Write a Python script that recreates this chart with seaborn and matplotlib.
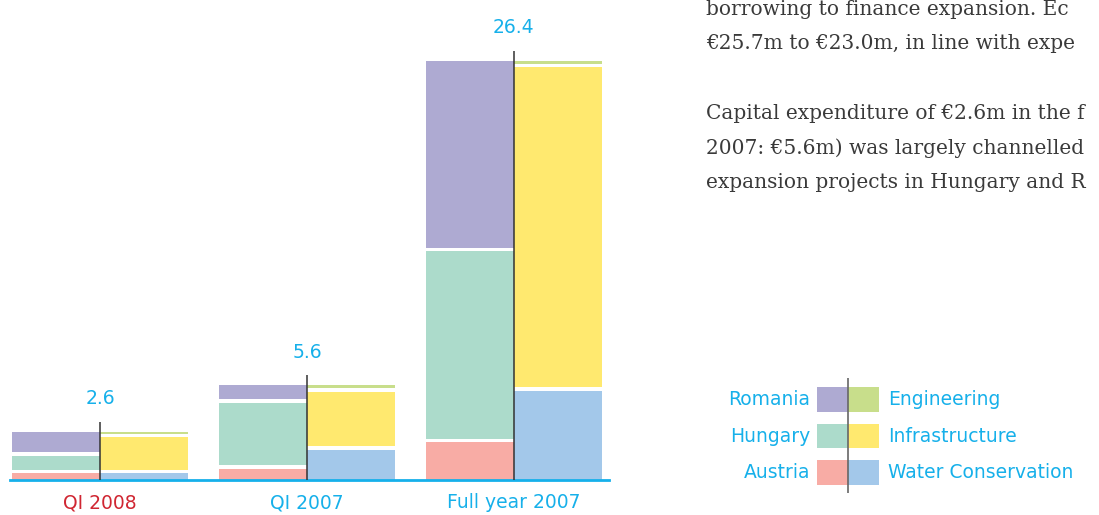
import matplotlib
matplotlib.use("Agg")
import matplotlib.pyplot as plt
import seaborn as sns
import numpy as np

# --- DATA (capital expenditure, EUR m) ---
PERIODS = ['QI 2008', 'QI 2007', 'Full year 2007']
TOTALS = [2.6, 5.6, 26.4]

# left bar of each pair: by region (bottom -> top)
REGIONS = ['Austria', 'Hungary', 'Romania']
AUSTRIA = [0.4, 0.7, 2.4]
HUNGARY = [0.9, 4.0, 12.0]
ROMANIA = [1.3, 0.9, 12.0]

# right bar of each pair: by segment (bottom -> top)
SEGMENTS = ['Water Conservation', 'Infrastructure', 'Engineering']
WATER = [0.4, 1.9, 5.7]
INFRA = [2.1, 3.5, 20.5]
ENGINEERING = [0.1, 0.2, 0.2]

# body text next to the chart, as far as it is visible on the page
PARAGRAPH = [
    'borrowing to finance expansion. Ec',
    '\u20ac25.7m to \u20ac23.0m, in line with expe',
    '',
    'Capital expenditure of \u20ac2.6m in the f',
    '2007: \u20ac5.6m) was largely channelled',
    'expansion projects in Hungary and R',
]

# --- STYLE ---
REGION_COLORS = ['#f8aca5', '#acdbcb', '#aeaad2']
SEGMENT_COLORS = ['#a3c8ea', '#ffe96f', '#c8de8b']
CYAN = '#16b0ea'
RED = '#d02632'
DARK = '#333333'

W, H, DPI = 1099, 515, 100
PX = 15.6            # pixels per EUR m
GAP = 3.5 / PX       # white gap between stacked segments
BAR_W = 0.425
BASE_PX = 479.5


def draw_stack(ax, xs, layers, colors, width):
    bottom = np.zeros(len(xs))
    for i, (vals, col) in enumerate(zip(layers, colors)):
        ax.bar(xs, vals, width=width, bottom=bottom + i * GAP, color=col,
               align='edge', linewidth=0)
        bottom += np.asarray(vals)
    return bottom + (len(layers) - 1) * GAP


def main():
    sns.set_theme(style="white")
    plt.rcParams['font.family'] = ['DejaVu Sans']

    fig = plt.figure(figsize=(W / DPI, H / DPI), dpi=DPI)
    fig.patch.set_facecolor('white')

    # main chart
    ax = fig.add_axes([10 / W, (H - BASE_PX) / H, 599 / W, BASE_PX / H])
    ax.set_facecolor('none')
    x = np.arange(len(PERIODS))
    ax.set_xlim(-0.435, 2.46)
    ax.set_ylim(0, BASE_PX / PX)

    tops_l = draw_stack(ax, x, [AUSTRIA, HUNGARY, ROMANIA], REGION_COLORS, -BAR_W)
    tops_r = draw_stack(ax, x, [WATER, INFRA, ENGINEERING], SEGMENT_COLORS, BAR_W)
    tops = np.maximum(tops_l, tops_r)

    ax.vlines(x, 0, tops + 10 / PX, color=DARK, lw=1.1, zorder=3)
    for xi, top, tot in zip(x, tops, TOTALS):
        ax.text(xi, top + 33 / PX, f'{tot}', ha='center', va='center',
                color=CYAN, fontsize=13.5)

    sns.despine(ax=ax, left=True)
    ax.spines['bottom'].set_color(CYAN)
    ax.spines['bottom'].set_linewidth(2)
    ax.set_yticks([])
    ax.set_xticks(x)
    ax.set_xticklabels(PERIODS, fontsize=13.5)
    ax.tick_params(axis='x', length=0, pad=10)
    for lbl, col in zip(ax.get_xticklabels(), [RED, CYAN, CYAN]):
        lbl.set_color(col)
    ax.grid(False)

    # legend
    lg = fig.add_axes([817 / W, (H - 493) / H, 62 / W, 115 / H])
    lg.set_facecolor('none')
    lg.set_xlim(-1, 1)
    lg.set_ylim(-0.56, 2.59)
    rows = np.arange(3)
    lg.barh(rows, [-1] * 3, height=0.68, color=REGION_COLORS, linewidth=0)
    lg.barh(rows, [1] * 3, height=0.68, color=SEGMENT_COLORS, linewidth=0)
    lg.axvline(0, color='#666666', lw=1.2)
    for r, name in zip(rows, REGIONS):
        lg.annotate(name, xy=(-1, r), xytext=(-5, 0), textcoords='offset points',
                    ha='right', va='center', color=CYAN, fontsize=13.5)
    for r, name in zip(rows, SEGMENTS):
        lg.annotate(name, xy=(1, r), xytext=(6.5, 0), textcoords='offset points',
                    ha='left', va='center', color=CYAN, fontsize=13.5)
    lg.axis('off')

    # body text on the right
    baselines = [15, 49, 84, 119, 154, 188]
    for line, yb in zip(PARAGRAPH, baselines):
        if line:
            fig.text(706 / W, 1 - yb / H, line, ha='left', va='baseline',
                     fontsize=14.5, color='#3a3a3a', family=['DejaVu Serif'])

    fig.savefig('out.png', dpi=DPI)
    plt.close(fig)


if __name__ == "__main__":
    main()
